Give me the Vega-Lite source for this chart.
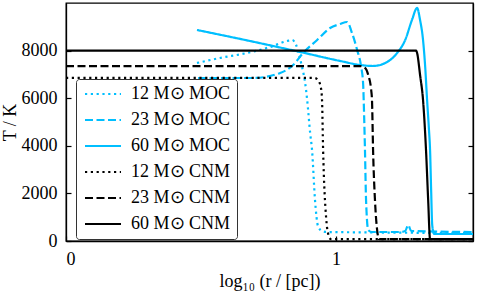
{
  "$schema": "https://vega.github.io/schema/vega-lite/v6.json",
  "width": 407,
  "height": 238,
  "autosize": {"type": "none"},
  "padding": {"left": 66, "top": 3, "right": 5, "bottom": 54},
  "config": {
    "font": "Liberation Serif",
    "view": {"stroke": "black", "strokeWidth": 1.3},
    "axis": {
      "domainColor": "black", "tickColor": "black", "labelColor": "black", "titleColor": "black",
      "labelFont": "Liberation Serif", "titleFont": "Liberation Serif",
      "labelFontSize": 18, "titleFontSize": 18, "titleFontWeight": "normal",
      "grid": false, "tickSize": -5, "tickWidth": 1.2, "domainWidth": 1.3
    },
    "legend": {
      "orient": "none", "legendX": 10, "legendY": 76,
      "symbolType": "M-3,0H3", "symbolSize": 144, "symbolStrokeWidth": 2.2, "symbolOffset": 12,
      "labelFont": "Liberation Serif", "labelFontSize": 18, "labelColor": "black", "labelOffset": 19,
      "padding": 6, "rowPadding": 8,
      "fillColor": "white", "strokeColor": "#333333", "cornerRadius": 3
    }
  },
  "datasets": {
    "curves": [
      {"s": "12 M⊙ MOC", "x": 0.485, "T": 7480},
      {"s": "12 M⊙ MOC", "x": 0.570, "T": 7690},
      {"s": "12 M⊙ MOC", "x": 0.670, "T": 7900},
      {"s": "12 M⊙ MOC", "x": 0.756, "T": 8152},
      {"s": "12 M⊙ MOC", "x": 0.819, "T": 8404},
      {"s": "12 M⊙ MOC", "x": 0.837, "T": 8446},
      {"s": "12 M⊙ MOC", "x": 0.852, "T": 8236},
      {"s": "12 M⊙ MOC", "x": 0.863, "T": 7816},
      {"s": "12 M⊙ MOC", "x": 0.874, "T": 7311},
      {"s": "12 M⊙ MOC", "x": 0.885, "T": 6681},
      {"s": "12 M⊙ MOC", "x": 0.893, "T": 5925},
      {"s": "12 M⊙ MOC", "x": 0.904, "T": 4538},
      {"s": "12 M⊙ MOC", "x": 0.911, "T": 3824},
      {"s": "12 M⊙ MOC", "x": 0.922, "T": 1723},
      {"s": "12 M⊙ MOC", "x": 0.933, "T": 630},
      {"s": "12 M⊙ MOC", "x": 0.948, "T": 420},
      {"s": "12 M⊙ MOC", "x": 0.967, "T": 378},
      {"s": "12 M⊙ MOC", "x": 1.507, "T": 336},

      {"s": "23 M⊙ MOC", "x": 0.489, "T": 6849},
      {"s": "23 M⊙ MOC", "x": 0.693, "T": 6849},
      {"s": "23 M⊙ MOC", "x": 0.793, "T": 7060},
      {"s": "23 M⊙ MOC", "x": 0.841, "T": 7396},
      {"s": "23 M⊙ MOC", "x": 0.878, "T": 7900},
      {"s": "23 M⊙ MOC", "x": 0.930, "T": 8446},
      {"s": "23 M⊙ MOC", "x": 0.978, "T": 8950},
      {"s": "23 M⊙ MOC", "x": 1.015, "T": 9118},
      {"s": "23 M⊙ MOC", "x": 1.041, "T": 9202},
      {"s": "23 M⊙ MOC", "x": 1.059, "T": 8740},
      {"s": "23 M⊙ MOC", "x": 1.078, "T": 8026},
      {"s": "23 M⊙ MOC", "x": 1.093, "T": 7311},
      {"s": "23 M⊙ MOC", "x": 1.100, "T": 6639},
      {"s": "23 M⊙ MOC", "x": 1.104, "T": 5210},
      {"s": "23 M⊙ MOC", "x": 1.107, "T": 3824},
      {"s": "23 M⊙ MOC", "x": 1.111, "T": 1723},
      {"s": "23 M⊙ MOC", "x": 1.119, "T": 462},
      {"s": "23 M⊙ MOC", "x": 1.133, "T": 378},
      {"s": "23 M⊙ MOC", "x": 1.237, "T": 378},
      {"s": "23 M⊙ MOC", "x": 1.256, "T": 420},
      {"s": "23 M⊙ MOC", "x": 1.267, "T": 672},
      {"s": "23 M⊙ MOC", "x": 1.278, "T": 420},
      {"s": "23 M⊙ MOC", "x": 1.507, "T": 378},

      {"s": "60 M⊙ MOC", "x": 0.485, "T": 8866},
      {"s": "60 M⊙ MOC", "x": 0.681, "T": 8404},
      {"s": "60 M⊙ MOC", "x": 0.867, "T": 7942},
      {"s": "60 M⊙ MOC", "x": 1.015, "T": 7564},
      {"s": "60 M⊙ MOC", "x": 1.089, "T": 7396},
      {"s": "60 M⊙ MOC", "x": 1.137, "T": 7354},
      {"s": "60 M⊙ MOC", "x": 1.189, "T": 7522},
      {"s": "60 M⊙ MOC", "x": 1.226, "T": 7900},
      {"s": "60 M⊙ MOC", "x": 1.256, "T": 8446},
      {"s": "60 M⊙ MOC", "x": 1.281, "T": 9286},
      {"s": "60 M⊙ MOC", "x": 1.300, "T": 9791},
      {"s": "60 M⊙ MOC", "x": 1.311, "T": 9286},
      {"s": "60 M⊙ MOC", "x": 1.322, "T": 8446},
      {"s": "60 M⊙ MOC", "x": 1.330, "T": 7311},
      {"s": "60 M⊙ MOC", "x": 1.337, "T": 5925},
      {"s": "60 M⊙ MOC", "x": 1.344, "T": 4664},
      {"s": "60 M⊙ MOC", "x": 1.348, "T": 3824},
      {"s": "60 M⊙ MOC", "x": 1.352, "T": 2143},
      {"s": "60 M⊙ MOC", "x": 1.356, "T": 672},
      {"s": "60 M⊙ MOC", "x": 1.363, "T": 294},
      {"s": "60 M⊙ MOC", "x": 1.507, "T": 294},

      {"s": "12 M⊙ CNM", "x": 0, "T": 6850},
      {"s": "12 M⊙ CNM", "x": 0.919, "T": 6850},
      {"s": "12 M⊙ CNM", "x": 0.933, "T": 6765},
      {"s": "12 M⊙ CNM", "x": 0.944, "T": 6430},
      {"s": "12 M⊙ CNM", "x": 0.948, "T": 5925},
      {"s": "12 M⊙ CNM", "x": 0.952, "T": 3824},
      {"s": "12 M⊙ CNM", "x": 0.963, "T": 1008},
      {"s": "12 M⊙ CNM", "x": 0.970, "T": 336},
      {"s": "12 M⊙ CNM", "x": 0.981, "T": 80},
      {"s": "12 M⊙ CNM", "x": 1.507, "T": 80},

      {"s": "23 M⊙ CNM", "x": 0, "T": 7350},
      {"s": "23 M⊙ CNM", "x": 1.089, "T": 7350},
      {"s": "23 M⊙ CNM", "x": 1.107, "T": 7270},
      {"s": "23 M⊙ CNM", "x": 1.119, "T": 6975},
      {"s": "23 M⊙ CNM", "x": 1.130, "T": 6345},
      {"s": "23 M⊙ CNM", "x": 1.133, "T": 5925},
      {"s": "23 M⊙ CNM", "x": 1.137, "T": 3824},
      {"s": "23 M⊙ CNM", "x": 1.144, "T": 1723},
      {"s": "23 M⊙ CNM", "x": 1.152, "T": 462},
      {"s": "23 M⊙ CNM", "x": 1.159, "T": 80},
      {"s": "23 M⊙ CNM", "x": 1.507, "T": 80},

      {"s": "60 M⊙ CNM", "x": 0, "T": 8000},
      {"s": "60 M⊙ CNM", "x": 1.296, "T": 8000},
      {"s": "60 M⊙ CNM", "x": 1.300, "T": 7900},
      {"s": "60 M⊙ CNM", "x": 1.311, "T": 6975},
      {"s": "60 M⊙ CNM", "x": 1.322, "T": 5925},
      {"s": "60 M⊙ CNM", "x": 1.333, "T": 3824},
      {"s": "60 M⊙ CNM", "x": 1.341, "T": 1723},
      {"s": "60 M⊙ CNM", "x": 1.348, "T": 80},
      {"s": "60 M⊙ CNM", "x": 1.507, "T": 80}
    ]
  },
  "data": {"name": "curves"},
  "layer": [
    {
      "mark": {"type": "line", "strokeWidth": 2.2, "interpolate": "monotone", "clip": true},
      "encoding": {
        "x": {
          "field": "x", "type": "quantitative",
          "scale": {"domain": [0, 1.507], "nice": false, "zero": false},
          "axis": {"values": [0, 1], "format": "d", "title": "log₁₀ (r / [pc])", "labelPadding": 14, "titlePadding": 4}
        },
        "y": {
          "field": "T", "type": "quantitative",
          "scale": {"domain": [0, 10000], "nice": false},
          "axis": {"values": [0, 2000, 4000, 6000, 8000], "format": "d", "title": "T / K", "labelPadding": 14, "titlePadding": 2}
        },
        "color": {
          "field": "s", "type": "nominal",
          "scale": {
            "domain": ["12 M⊙ MOC", "23 M⊙ MOC", "60 M⊙ MOC", "12 M⊙ CNM", "23 M⊙ CNM", "60 M⊙ CNM"],
            "range": ["#00BFFF", "#00BFFF", "#00BFFF", "#000000", "#000000", "#000000"]
          },
          "legend": {"title": null}
        },
        "strokeDash": {
          "field": "s", "type": "nominal",
          "scale": {
            "domain": ["12 M⊙ MOC", "23 M⊙ MOC", "60 M⊙ MOC", "12 M⊙ CNM", "23 M⊙ CNM", "60 M⊙ CNM"],
            "range": [[2.2, 3.6], [8, 3.5], [1, 0], [2.2, 3.6], [8, 3.5], [1, 0]]
          },
          "legend": {"title": null}
        }
      }
    },
    {
      "mark": {"type": "line", "opacity": 0},
      "encoding": {
        "x": {"field": "x", "type": "quantitative"},
        "y": {
          "field": "T", "type": "quantitative",
          "axis": {"orient": "right", "labels": false, "title": null, "values": [0, 2000, 4000, 6000, 8000]}
        },
        "detail": {"field": "s"}
      }
    }
  ],
  "resolve": {"axis": {"y": "independent"}}
}
